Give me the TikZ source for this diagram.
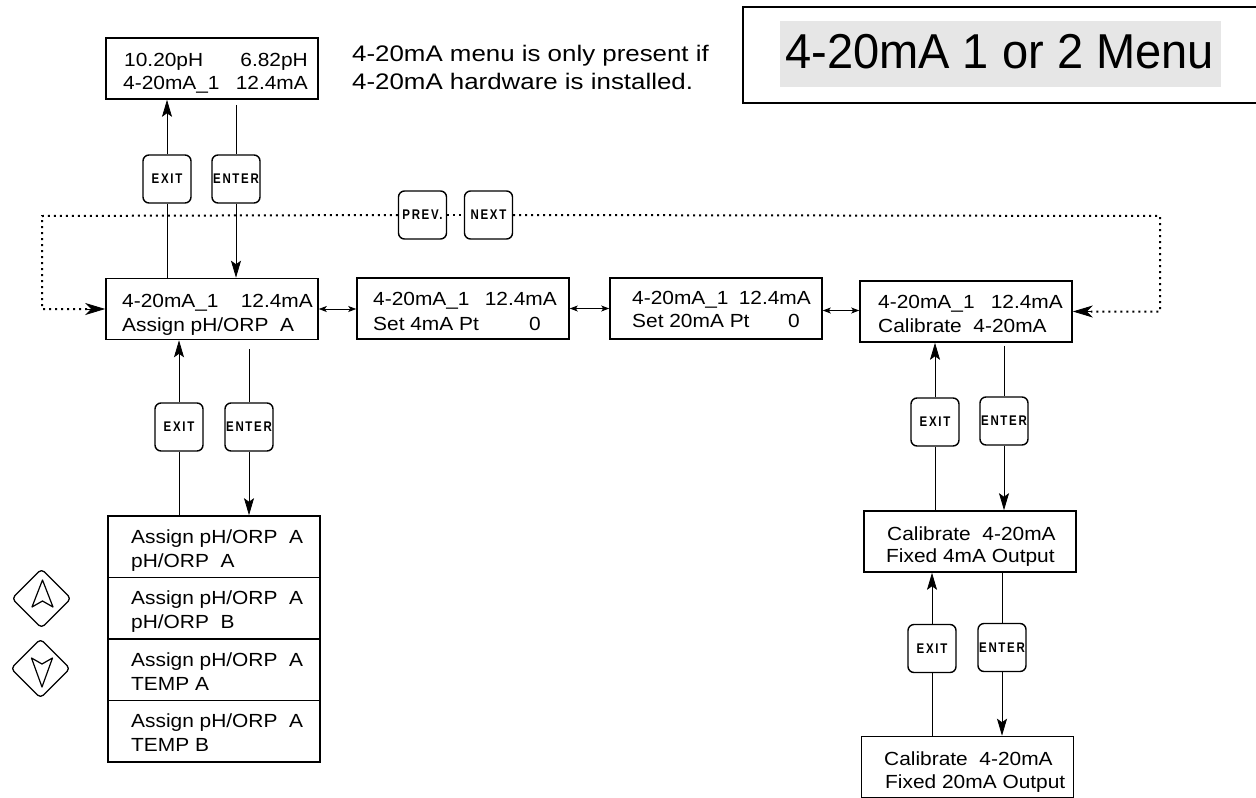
\documentclass[tikz,border=0pt]{standalone}
\usepackage{fontspec}
\setmainfont{Liberation Sans}
\newfontfamily\bodyf[FakeStretch=1.1]{Liberation Sans}
\newfontfamily\notef[FakeStretch=1.15]{Liberation Sans}
\newfontfamily\titlef[FakeStretch=0.96]{Liberation Sans}
\newfontfamily\keyf[FakeStretch=0.82,LetterSpace=12]{Liberation Sans}
\usetikzlibrary{arrows.meta}
\definecolor{titlegray}{HTML}{E6E6E6}
\tikzset{
  lcd/.style={draw, line width=1.6pt, minimum width=212pt, minimum height=61pt, inner sep=0pt},
  txt/.style={inner sep=0pt, font={\bodyf\fontsize{19}{19}\selectfont}},
  notetxt/.style={inner sep=0pt, font={\notef\fontsize{22.5}{22.5}\selectfont}},
  keybox/.style={draw, fill=white, rounded corners=6pt, line width=1.4pt, minimum width=48pt, minimum height=48pt, inner sep=0pt, font={\keyf\bfseries\fontsize{14}{14}\selectfont}},
  conn/.style={line width=0.8pt},
  tip/.style={-{Stealth[length=17pt,width=10pt,inset=3.5pt]}},
  dtip/.style={{Stealth[length=8pt,width=6pt,inset=2pt]}-{Stealth[length=8pt,width=6pt,inset=2pt]}},
  dots/.style={line width=2pt, dash pattern=on 2pt off 4pt},
  dotip/.style={-{Stealth[length=20pt,width=12pt,inset=6pt]}},
  padshape/.style={line width=1.3pt, rounded corners=4pt, line join=round}
}
\begin{document}
\begin{tikzpicture}[x=1pt,y=-1pt]
\useasboundingbox (0,0) rectangle (1256,798);

% title
\draw[line width=1.4pt] (743,7) rectangle (1262,103);
\fill[titlegray] (780,21) rectangle (1221,87);
\node[inner sep=0pt, anchor=base west, font={\titlef\fontsize{49}{49}\selectfont}] (title) at (785,68) {4-20mA 1 or 2 Menu};

% note
\node[notetxt, anchor=base west] (note1) at (352,61) {4-20mA menu is only present if};
\node[notetxt, anchor=base west] (note2) at (352,89) {4-20mA hardware is installed.};

% LCD boxes
\node[lcd] (top) at (212,68.5) {};
\node[lcd] (b1) at (212,309) {};
\node[lcd] (b2) at (463,308.5) {};
\node[lcd] (b3) at (716,308.5) {};
\node[lcd] (b4) at (966,311.5) {};
\node[lcd] (b5) at (970,541.5) {};
\node[lcd] (b6) at (967.5,767) {};
\node[lcd, minimum height=61.5pt] (l1) at (214,546.75) {};
\node[lcd, minimum height=61.5pt] (l2) at (214,608.25) {};
\node[lcd, minimum height=61.5pt] (l3) at (214,669.75) {};
\node[lcd, minimum height=61.5pt] (l4) at (214,731.25) {};

% texts
\node[txt, anchor=base west] (ta1) at (124,66) {10.20pH};
\node[txt, anchor=base east] (ta2) at (308,66) {6.82pH};
\node[txt, anchor=base west] (ta3) at (123,89) {4-20mA\_1};
\node[txt, anchor=base east] (ta4) at (308,89) {12.4mA};

\node[txt, anchor=base west] (t11) at (122,307) {4-20mA\_1};
\node[txt, anchor=base east] (t12) at (313,307) {12.4mA};
\node[txt, anchor=base west] (t13) at (122,331) {Assign pH/ORP~~A};

\node[txt, anchor=base west] (t21) at (373,305) {4-20mA\_1};
\node[txt, anchor=base east] (t22) at (557,305) {12.4mA};
\node[txt, anchor=base west] (t23) at (373,330) {Set 4mA Pt};
\node[txt, anchor=base east] (t24) at (541,330) {0};

\node[txt, anchor=base west] (t31) at (632,304) {4-20mA\_1};
\node[txt, anchor=base east] (t32) at (811,304) {12.4mA};
\node[txt, anchor=base west] (t33) at (632,327) {Set 20mA Pt};
\node[txt, anchor=base east] (t34) at (800,327) {0};

\node[txt, anchor=base west] (t41) at (878,308) {4-20mA\_1};
\node[txt, anchor=base east] (t42) at (1063,308) {12.4mA};
\node[txt, anchor=base west] (t43) at (878,332) {Calibrate~~4-20mA};

\node[txt, anchor=base west] (t51) at (887,540) {Calibrate~~4-20mA};
\node[txt, anchor=base west] (t52) at (886,562) {Fixed 4mA Output};

\node[txt, anchor=base west] (t61) at (884,765) {Calibrate~~4-20mA};
\node[txt, anchor=base west] (t62) at (885,788) {Fixed 20mA Output};

\node[txt, anchor=base west] (tl11) at (131,543) {Assign pH/ORP~~A};
\node[txt, anchor=base west] (tl12) at (131,567) {pH/ORP~~A};
\node[txt, anchor=base west] (tl21) at (131,604.5) {Assign pH/ORP~~A};
\node[txt, anchor=base west] (tl22) at (131,628.5) {pH/ORP~~B};
\node[txt, anchor=base west] (tl31) at (131,666) {Assign pH/ORP~~A};
\node[txt, anchor=base west] (tl32) at (131,690) {TEMP A};
\node[txt, anchor=base west] (tl41) at (131,727.5) {Assign pH/ORP~~A};
\node[txt, anchor=base west] (tl42) at (131,751.5) {TEMP B};

% keys
\node[keybox] (exitA) at (167,179) {EXIT};
\node[keybox] (enterA) at (236,179) {ENTER};
\node[keybox] (prev) at (422.5,215) {PREV.};
\node[keybox] (next) at (488.5,215) {NEXT};
\node[keybox] (exitB) at (179,427) {EXIT};
\node[keybox] (enterB) at (249,427) {ENTER};
\node[keybox] (exitC) at (935,422) {EXIT};
\node[keybox] (enterC) at (1004,421) {ENTER};
\node[keybox] (exitD) at (932,648.5) {EXIT};
\node[keybox] (enterD) at (1002,647.5) {ENTER};

% top column
\draw[conn] (exitA.south) -- (exitA.south |- b1.north);
\draw[conn, tip] (exitA.north) -- (exitA.north |- top.south);
\draw[conn] ([yshift=-5pt]enterA.north |- top.south) -- (enterA.north);
\draw[conn, tip] (enterA.south) -- (enterA.south |- b1.north);

% list column
\draw[conn] (exitB.south) -- (exitB.south |- l1.north);
\draw[conn, tip] (exitB.north) -- (exitB.north |- b1.south);
\draw[conn] ([yshift=-9pt]enterB.north |- b1.south) -- (enterB.north);
\draw[conn, tip] (enterB.south) -- (enterB.south |- l1.north);

% right column
\draw[conn] (exitC.south) -- (exitC.south |- b5.north);
\draw[conn, tip] (exitC.north) -- (exitC.north |- b4.south);
\draw[conn] ([yshift=-3pt]enterC.north |- b4.south) -- (enterC.north);
\draw[conn, tip] (enterC.south) -- (enterC.south |- b5.north);

\draw[conn] (exitD.south) -- (exitD.south |- b6.north);
\draw[conn, tip] (exitD.north) -- (exitD.north |- b5.south);
\draw[conn] (enterD.north |- b5.south) -- (enterD.north);
\draw[conn, tip] (enterD.south) -- (enterD.south |- b6.north);

% horizontal double arrows
\draw[conn, dtip] (b1.east) -- (b1.east -| b2.west);
\draw[conn, dtip] (b2.east) -- (b2.east -| b3.west);
\draw[conn, dtip] ([yshift=-2pt]b3.east) -- ([yshift=-2pt]b3.east -| b4.west);

% dotted loop
\coordinate (cl) at (42,216);
\coordinate (cr) at (1160,216);
\draw[dots] (prev.west) -- (cl) -- (cl |- b1.west) -- ([xshift=-18pt]b1.west);
\draw[dotip, line width=0.8pt] ([xshift=-19pt]b1.west) -- (b1.west);
\draw[dots] (prev.east) -- (next.west);
\draw[dots] (next.east) -- (cr) -- (cr |- b4.east) -- ([xshift=18pt]b4.east);
\draw[dotip, line width=0.8pt] ([xshift=19pt]b4.east) -- (b4.east);

% up / down keys
\draw[padshape] (41.5,569) -- (71,598.5) -- (41.5,628) -- (12,598.5) -- cycle;
\draw[line width=1.2pt, line join=round] (42.5,580) -- (32,607) -- (42.5,601) -- (53,607) -- cycle;
\draw[padshape] (40.5,639) -- (70,668.5) -- (40.5,698) -- (11,668.5) -- cycle;
\draw[line width=1.2pt, line join=round] (42,687) -- (31.5,658) -- (42,664) -- (52.5,658) -- cycle;
\end{tikzpicture}
\end{document}
